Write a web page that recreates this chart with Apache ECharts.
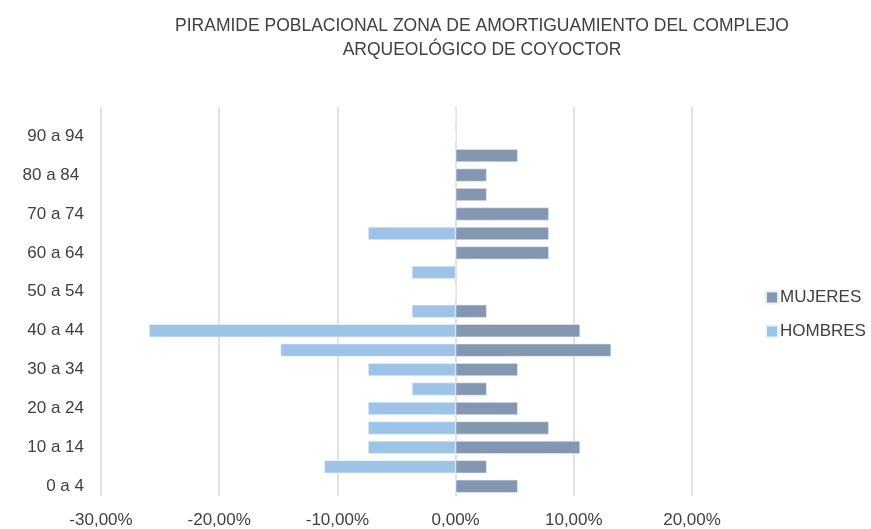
<!DOCTYPE html>
<html>
<head>
<meta charset="utf-8">
<script src="https://cdn.jsdelivr.net/npm/echarts@6/dist/echarts.min.js"></script>
<style>
  html, body { margin: 0; padding: 0; background: #fff; }
  #chart { width: 871px; height: 529px; }
</style>
</head>
<body>
<div id="chart"></div>
<script>
// Age groups, bottom to top
const ageGroups = ['0 a 4', '5 a 9', '10 a 14', '15 a 19', '20 a 24', '25 a 29', '30 a 34', '35 a 39',
  '40 a 44', '45 a 49', '50 a 54', '55 a 59', '60 a 64', '65 a 69', '70 a 74', '75 a 79',
  '80 a 84 ', '85 a 89', '90 a 94', '95 a 99'];

// Share of each sex in every age group (%)
const mujeres = [5.26, 2.63, 10.53, 7.89, 5.26, 2.63, 5.26, 13.16, 10.53, 2.63,
  0, 0, 7.89, 7.89, 7.89, 2.63, 2.63, 5.26, 0, 0];
// Men are plotted to the left of zero
const hombres = [0, -11.11, -7.41, -7.41, -7.41, -3.70, -7.41, -14.81, -25.93, -3.70,
  0, -3.70, 0, -7.41, 0, 0, 0, 0, 0, 0];

const xTicks = { min: -30, max: 20, step: 10 };

const font = 'Liberation Sans, Arial, sans-serif';
const textColor = '#404040';

const chart = echarts.init(document.getElementById('chart'), null, { renderer: 'canvas' });
chart.setOption({
  animation: false,
  backgroundColor: '#ffffff',
  title: {
    text: 'PIRAMIDE POBLACIONAL ZONA DE AMORTIGUAMIENTO DEL COMPLEJO\nARQUEOLÓGICO DE COYOCTOR',
    left: 477,
    textAlign: 'center',
    top: 9,
    textStyle: {
      fontFamily: font,
      fontSize: 17.5,
      fontWeight: 'normal',
      color: textColor,
      lineHeight: 24
    }
  },
  legend: {
    orient: 'vertical',
    left: 760,
    top: 284,
    itemWidth: 12,
    itemHeight: 12,
    itemGap: 17,
    icon: 'rect',
    data: ['MUJERES', 'HOMBRES'],
    textStyle: { fontFamily: font, fontSize: 17, color: textColor, padding: [0, 0, 0, -3] }
  },
  grid: { left: 101, right: 179, top: 107, bottom: 32, containLabel: false },
  xAxis: {
    type: 'value',
    min: xTicks.min,
    max: xTicks.max,
    interval: xTicks.step,
    axisLine: { show: false },
    axisTick: { show: false },
    splitLine: { show: true, lineStyle: { color: '#d9d9d9', width: 1.5 } },
    axisLabel: {
      margin: 16,
      fontFamily: font,
      fontSize: 17,
      color: textColor,
      formatter: v => v.toFixed(2).replace('.', ',') + '%'
    }
  },
  yAxis: {
    type: 'category',
    data: ageGroups,
    axisLine: { show: false },
    axisTick: { show: false },
    splitLine: { show: false },
    axisLabel: {
      interval: 1,
      margin: 17,
      fontFamily: font,
      fontSize: 17,
      color: textColor
    }
  },
  series: [
    {
      name: 'MUJERES',
      type: 'bar',
      data: mujeres,
      barWidth: 13,
      barGap: '-100%',
      itemStyle: { color: '#8497b0', borderColor: '#e8edf3', borderWidth: 0.6 }
    },
    {
      name: 'HOMBRES',
      type: 'bar',
      data: hombres,
      barWidth: 13,
      barGap: '-100%',
      itemStyle: { color: '#9dc3e6', borderColor: '#edf4fb', borderWidth: 0.6 }
    }
  ]
});
</script>
</body>
</html>
